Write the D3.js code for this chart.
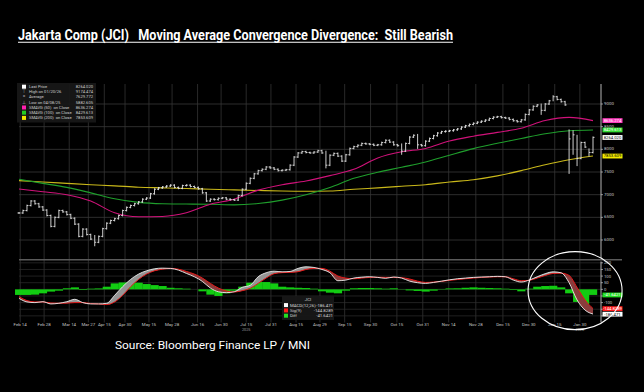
<!DOCTYPE html>
<html>
<head>
<meta charset="utf-8">
<script src="https://cdn.jsdelivr.net/npm/d3@7"></script>
<style>
  body { margin: 0; background: #000; }
  svg { display: block; }
  text { font-family: "Liberation Sans Narrow", "Roboto", "DejaVu Sans", sans-serif; }
</style>
</head>
<body>
<svg id="chart" width="644" height="392"></svg>
<script>
// JCI closes, roughly every 2nd trading day, Feb 2025 -> Feb 2026
const closes = [
  6596, 6650, 6760, 6860, 6800, 6730, 6660, 6540, 6300, 6500,
  6650, 6620, 6560, 6480, 6350, 6080, 6240, 6120, 6020, 5950,
  6080, 6250, 6370, 6430, 6470, 6540, 6650, 6720, 6760, 6800,
  6840, 6900, 6925, 7020, 7120, 7150, 7170, 7190, 7210, 7160,
  7140, 7200, 7210, 7180, 7160, 7130, 7040, 6860, 6900, 6890,
  6920, 6930, 6900, 6890, 6880, 6980, 7120, 7250, 7360, 7460,
  7530, 7560, 7610, 7590, 7560, 7530, 7540, 7550, 7650, 7830,
  7920, 7950, 7930, 7920, 7940, 7970, 7920, 7650, 7870, 7910,
  7850, 7740, 7880, 8020, 8060, 8090, 8130, 8120, 8110, 8090,
  8100, 8150, 8200, 8160, 8100, 8080, 7960, 8130, 8270, 8310,
  8100, 8080, 8180, 8240, 8300, 8360, 8390, 8400, 8410, 8430,
  8450, 8490, 8520, 8550, 8575, 8600, 8620, 8645, 8680, 8710,
  8720, 8700, 8690, 8660, 8630, 8610, 8650, 8770, 8870, 8950,
  8980, 8860, 9000, 9070, 9160, 9100, 9050, 8980, 8230, 8320,
  7800, 8150, 8050, 7930, 8264
];
// bars with a wide intraday range: [index, low, high]
const wideBars = [
  [19, 5882, 6090], [77, 7600, 7950], [96, 7900, 8110], [100, 8030, 8320],
  [131, 8780, 8990], [134, 9080, 9174], [138, 7478, 8420], [139, 7900, 8400],
  [140, 7650, 8300], [143, 7860, 8000]
];

// moving averages, one value every 6 points of the close series
const sma50 = [7125, 7066, 7000, 6860, 6600, 6514, 6520, 6600, 6790, 6900, 7100, 7220, 7300,
  7420, 7560, 7810, 7945, 8020, 8185, 8290, 8375, 8465, 8635, 8705, 8633];
const sma100 = [7339, 7250, 7160, 7040, 6910, 6830, 6800, 6794, 6787, 6775, 6805, 6880, 7000,
  7160, 7360, 7495, 7605, 7720, 7870, 8015, 8133, 8240, 8345, 8411, 8427];
const sma200 = [7309, 7280, 7250, 7220, 7195, 7165, 7150, 7135, 7118, 7105, 7092, 7080, 7075,
  7080, 7120, 7150, 7185, 7220, 7280, 7330, 7415, 7530, 7660, 7770, 7853];

// MACD panel, one value every 2 points of the close series
const macd = [
  -68, -95, -100, -93, -110, -105, -93, -75, -100, -110, -110, -105, -45, 20, 75, 115,
  140, 155, 160, 158, 145, 120, 95, 60, 10, -18, -25, -18, 15, 30, 95, 125,
  137, 132, 135, 158, 170, 165, 150, 125, 65, 70, 85, 92, 95, 90, 83, 93,
  85, 62, 50, 45, 52, 62, 72, 80, 85, 90, 93, 95, 98, 95, 70, 55,
  70, 95, 118, 132, 125, 50, -80, -156, -186
];
const signal = [
  -55, -85, -95, -95, -103, -105, -104, -100, -100, -107, -110, -115, -95, -45, 20, 75,
  115, 140, 152, 158, 152, 135, 115, 85, 45, 10, -12, -20, -10, 8, 45, 85,
  118, 126, 128, 133, 150, 158, 158, 137, 100, 85, 80, 85, 90, 91, 90, 90,
  88, 78, 62, 52, 55, 60, 68, 74, 80, 85, 90, 93, 95, 95, 80, 65,
  68, 85, 105, 120, 122, 105, 15, -80, -145
];
const diff = [
  -42, -42, -40, -30, -17, -10, 8, 15, -5, 5, 7, 20, 45, 52, 55, 50,
  40, 32, 25, 12, 8, 5, 0, -15, -40, -50, -30, -10, 20, 50, 57, 55,
  45, 20, 15, 12, 10, 5, -15, -25, -30, -10, 8, 10, 10, 8, 5, 8,
  -2, -8, -12, -17, -10, 3, 7, 8, 12, 15, 12, 10, 8, 5, -5, -15,
  5, 20, 25, 27, 15, -30, -95, -115, -42
];

// date labels, placed by position in the close series
const tickLabels = ["Feb 14", "Feb 28", "Mar 14", "Mar 27", "Apr 15", "Apr 30", "May 15", "May 28",
  "Jun 16", "Jun 30", "Jul 15", "Jul 31", "Aug 15", "Aug 29", "Sep 15", "Sep 30", "Oct 15",
  "Oct 31", "Nov 14", "Nov 28", "Dec 15", "Dec 30", "Jan 15", "Jan 30"];
const tickIdx = [0.3, 6.3, 12.6, 17.4, 21.4, 26.6, 32.6, 38.4, 44.8, 50.7, 57.0, 63.2, 69.5,
  75.5, 81.7, 88.2, 94.8, 101.3, 107.8, 114.6, 121.4, 127.9, 134.4, 140.7];
const yearLabels = ["2025", "2026"];
const yearIdx = [57.0, 140.7];

const priceTicks = [6000, 6500, 7000, 7500, 8000, 8500, 9000];
const macdTicks = [200, 150, 100, 50, 0, -50, -100, -150, -200];
const macdLabels = [200, 150, 100, 50, 0, -100];

const legendRows = [
  { label: "Last Price", value: "8264.020", mark: "box", color: "#ffffff" },
  { label: "High on 01/20/26", value: "9174.474", mark: "\u22a4", color: "#bbbbbb" },
  { label: "Average", value: "7629.772", mark: "=", color: "#bbbbbb" },
  { label: "Low on 04/08/25", value: "5882.605", mark: "\u22a5", color: "#bbbbbb" },
  { label: "SMAVG (50)  on Close", value: "8636.274", mark: "box", color: "#ff1fb0" },
  { label: "SMAVG (100)  on Close", value: "8429.613", mark: "box", color: "#22cc22" },
  { label: "SMAVG (200)  on Close", value: "7853.609", mark: "box", color: "#f0e800" }
];
const macdLegend = [
  { label: "MACD(12,26)", value: "-186.471", color: "#ffffff" },
  { label: "Sig(9)", value: "-144.8289", color: "#ff1a1a" },
  { label: "Diff", value: "-41.6421", color: "#22dd22" }
];

const svg = d3.select("#chart");
svg.append("rect").attr("width", 644).attr("height", 392).attr("fill", "#000");

// title + source
svg.append("text")
  .attr("x", 18).attr("y", 40)
  .attr("font-size", 15).attr("font-weight", "bold").attr("fill", "#fff")
  .attr("textLength", 435).attr("lengthAdjust", "spacingAndGlyphs")
  .attr("xml:space", "preserve")
  .text("Jakarta Comp (JCI)   Moving Average Convergence Divergence:  Still Bearish");
svg.append("line").attr("x1", 18).attr("x2", 453).attr("y1", 42.3).attr("y2", 42.3)
  .attr("stroke", "#fff").attr("stroke-width", 1.1);

svg.append("text")
  .attr("x", 115).attr("y", 349)
  .attr("font-size", 11).attr("fill", "#fff")
  .attr("font-family", "Roboto, sans-serif")
  .attr("textLength", 195).attr("lengthAdjust", "spacingAndGlyphs")
  .text("Source: Bloomberg Finance LP / MNI");

// scales
const left = 19, right = 601;
const x = d3.scaleLinear().domain([0, closes.length - 1]).range([19, 593]);
const y = d3.scaleLinear().domain([6000, 9000]).range([240, 104]);
const yM = d3.scaleLinear().domain([-250, 210]).range([322.5, 261.5]);
const mainTop = 84, mainBottom = 258, macdTop = 261.5, macdBottom = 322.5;

const grid = svg.append("g");
// vertical grid
grid.selectAll("line.v").data(tickIdx).join("line")
  .attr("x1", (d) => x(d)).attr("x2", (d) => x(d))
  .attr("y1", mainTop).attr("y2", macdBottom)
  .attr("stroke", "#333").attr("stroke-width", 0.8);
// horizontal grid
grid.selectAll("line.h").data(priceTicks).join("line")
  .attr("x1", left).attr("x2", right)
  .attr("y1", (d) => y(d)).attr("y2", (d) => y(d))
  .attr("stroke", "#383838").attr("stroke-width", 0.8);
grid.append("g").selectAll("line").data(macdTicks).join("line")
  .attr("x1", left).attr("x2", right)
  .attr("y1", (d) => yM(d)).attr("y2", (d) => yM(d))
  .attr("stroke", "#2e2e2e").attr("stroke-width", 0.7);

// panel divider
svg.append("line").attr("x1", left).attr("x2", 622).attr("y1", 259.8).attr("y2", 259.8)
  .attr("stroke", "#5a5a5a").attr("stroke-width", 1.6);

// moving averages
const maX = (d, i) => x(i * 6);
const maLine = d3.line().x(maX).y((d) => y(d)).curve(d3.curveMonotoneX);
[[sma200, "#c9b81a"], [sma100, "#1f9e2c"], [sma50, "#d0127a"]].forEach(([s, c]) => {
  svg.append("path").attr("d", maLine(s)).attr("fill", "none")
    .attr("stroke", c).attr("stroke-width", 1.1);
});

// price bars (open taken at prior close)
const wide = new Map(wideBars.map((b) => [b[0], b]));
const bars = svg.append("g").attr("stroke", "#e4e4e4").attr("stroke-width", 0.9);
closes.forEach((c, i) => {
  const prev = i > 0 ? closes[i - 1] : c;
  let lo = Math.min(prev, c), hi = Math.max(prev, c);
  if (wide.has(i)) { lo = wide.get(i)[1]; hi = wide.get(i)[2]; }
  const xi = x(i);
  bars.append("line").attr("x1", xi).attr("x2", xi)
    .attr("y1", y(hi) - 0.9).attr("y2", y(lo) + 0.9);
  if (!wide.has(i)) {
    bars.append("line").attr("x1", xi - 1.5).attr("x2", xi).attr("y1", y(prev)).attr("y2", y(prev));
  }
  bars.append("line").attr("x1", xi).attr("x2", xi + 1.5).attr("y1", y(c)).attr("y2", y(c));
});

// right axis, main panel
svg.append("line").attr("x1", right).attr("x2", right).attr("y1", mainTop).attr("y2", mainBottom)
  .attr("stroke", "#c8c8c8").attr("stroke-width", 0.9);
svg.append("line").attr("x1", right).attr("x2", right).attr("y1", macdTop).attr("y2", macdBottom)
  .attr("stroke", "#c8c8c8").attr("stroke-width", 0.9);
const pAxis = svg.append("g");
pAxis.selectAll("line").data(priceTicks).join("line")
  .attr("x1", right).attr("x2", right + 2).attr("y1", (d) => y(d)).attr("y2", (d) => y(d))
  .attr("stroke", "#c8c8c8").attr("stroke-width", 0.7);
pAxis.selectAll("text").data(priceTicks).join("text")
  .attr("x", 604).attr("y", (d) => y(d) + 1.0)
  .attr("font-size", 4.4).attr("fill", "#c8c8c8").text((d) => d);

const mAxis = svg.append("g");
mAxis.selectAll("line").data(macdTicks).join("line")
  .attr("x1", right).attr("x2", right + 2).attr("y1", (d) => yM(d)).attr("y2", (d) => yM(d))
  .attr("stroke", "#c8c8c8").attr("stroke-width", 0.7);
mAxis.selectAll("text").data(macdLabels).join("text")
  .attr("x", 604).attr("y", (d) => yM(d) + 1.5)
  .attr("font-size", 4.2).attr("fill", "#c8c8c8").text((d) => d);

function tag(yv, txt, bg, fg) {
  svg.append("rect").attr("x", 602.5).attr("y", yv - 2.3).attr("width", 20).attr("height", 4.8)
    .attr("fill", bg);
  svg.append("text").attr("x", 612.5).attr("y", yv + 1.5).attr("text-anchor", "middle")
    .attr("font-size", 4.2).attr("fill", fg).text(txt);
}
tag(y(8636.274), "8636.274", "#ff3cc0", "#fff");
tag(y(8429.613), "8429.613", "#33dd33", "#fff");
tag(y(8264.020), "8264.020", "#ffffff", "#000");
tag(y(7853.609), "7853.609", "#f4ec00", "#000");

// MACD panel
const mX = (d, i) => x(i * 2);
const step = x(2) - x(0);
svg.append("g").selectAll("rect").data(diff).join("rect")
  .attr("x", (d, i) => mX(d, i) - step / 2)
  .attr("width", step + 0.2)
  .attr("y", (d) => Math.min(yM(0), yM(d)))
  .attr("height", (d) => Math.abs(yM(d) - yM(0)))
  .attr("fill", "#12cc12");

const curve = d3.curveMonotoneX;
const idxs = d3.range(macd.length);
const defs = svg.append("defs");
defs.append("clipPath").attr("id", "belowMacd").append("path")
  .attr("d", d3.area().x((i) => x(i * 2)).y0(macdBottom).y1((i) => yM(macd[i])).curve(curve)(idxs));
defs.append("clipPath").attr("id", "aboveMacd").append("path")
  .attr("d", d3.area().x((i) => x(i * 2)).y0(macdTop).y1((i) => yM(macd[i])).curve(curve)(idxs));

svg.append("path").attr("clip-path", "url(#belowMacd)")
  .attr("d", d3.area().x((i) => x(i * 2)).y0(macdTop).y1((i) => yM(signal[i])).curve(curve)(idxs))
  .attr("fill", "#959595");
svg.append("path").attr("clip-path", "url(#aboveMacd)")
  .attr("d", d3.area().x((i) => x(i * 2)).y0(macdBottom).y1((i) => yM(signal[i])).curve(curve)(idxs))
  .attr("fill", "#8a3c3c");

svg.append("path").attr("d", d3.line().x(mX).y((d) => yM(d)).curve(curve)(signal))
  .attr("fill", "none").attr("stroke", "#e51818").attr("stroke-width", 1);
svg.append("path").attr("d", d3.line().x(mX).y((d) => yM(d)).curve(curve)(macd))
  .attr("fill", "none").attr("stroke", "#ececec").attr("stroke-width", 0.9);

tag(yM(-41.6421), "-41.6421", "#22dd22", "#fff");
tag(yM(-144.8289), "-144.8289", "#ff1a1a", "#fff");
tag(yM(-186.471), "-186.471", "#ffffff", "#000");

// date axis
const dAxis = svg.append("g");
dAxis.selectAll("text").data(tickLabels).join("text")
  .attr("x", (d, i) => x(tickIdx[i])).attr("y", 325.5)
  .attr("text-anchor", "middle").attr("font-size", 4.4).attr("fill", "#c4c4c4")
  .text((d) => d);
dAxis.append("g").selectAll("text").data(yearLabels).join("text")
  .attr("x", (d, i) => x(yearIdx[i])).attr("y", 330.5)
  .attr("text-anchor", "middle").attr("font-size", 3.8).attr("fill", "#9a9a9a")
  .text((d) => d);

// price legend
const lg = svg.append("g");
lg.append("rect").attr("x", 17).attr("y", 83).attr("width", 79).attr("height", 39.5)
  .attr("fill", "#181818").attr("opacity", 0.92);
legendRows.forEach((r, i) => {
  const ly = 88 + i * 5.2;
  if (r.mark === "box") {
    lg.append("rect").attr("x", 22).attr("y", ly - 3.3).attr("width", 4).attr("height", 4)
      .attr("fill", r.color);
  } else {
    lg.append("text").attr("x", 24).attr("y", ly).attr("text-anchor", "middle")
      .attr("font-size", 4.6).attr("fill", r.color).text(r.mark);
  }
  lg.append("text").attr("x", 29).attr("y", ly).attr("font-size", 4.1).attr("fill", "#d0d0d0")
    .attr("xml:space", "preserve").text(r.label);
  lg.append("text").attr("x", 93).attr("y", ly).attr("text-anchor", "end")
    .attr("font-size", 4.1).attr("fill", "#d0d0d0").text(r.value);
});

// MACD legend
const ml = svg.append("g");
ml.append("rect").attr("x", 282).attr("y", 296).attr("width", 52).attr("height", 24)
  .attr("fill", "#181818").attr("opacity", 0.92);
ml.append("text").attr("x", 308).attr("y", 301).attr("text-anchor", "middle")
  .attr("font-size", 4.4).attr("fill", "#cfcfcf").text("JCI");
macdLegend.forEach((r, i) => {
  const ly = 306.5 + i * 5.3;
  ml.append("rect").attr("x", 284).attr("y", ly - 3.4).attr("width", 4).attr("height", 4)
    .attr("fill", r.color);
  ml.append("text").attr("x", 290).attr("y", ly).attr("font-size", 4.3).attr("fill", "#d6d6d6")
    .text(r.label);
  ml.append("text").attr("x", 333).attr("y", ly).attr("text-anchor", "end")
    .attr("font-size", 4.3).attr("fill", "#d6d6d6").text(r.value);
});

// annotation circle round the latest MACD cross
svg.append("ellipse").attr("cx", x(139.5)).attr("cy", yM(-10)).attr("rx", 47).attr("ry", 39)
  .attr("fill", "none").attr("stroke", "#fff").attr("stroke-width", 1.1);
</script>
</body>
</html>
